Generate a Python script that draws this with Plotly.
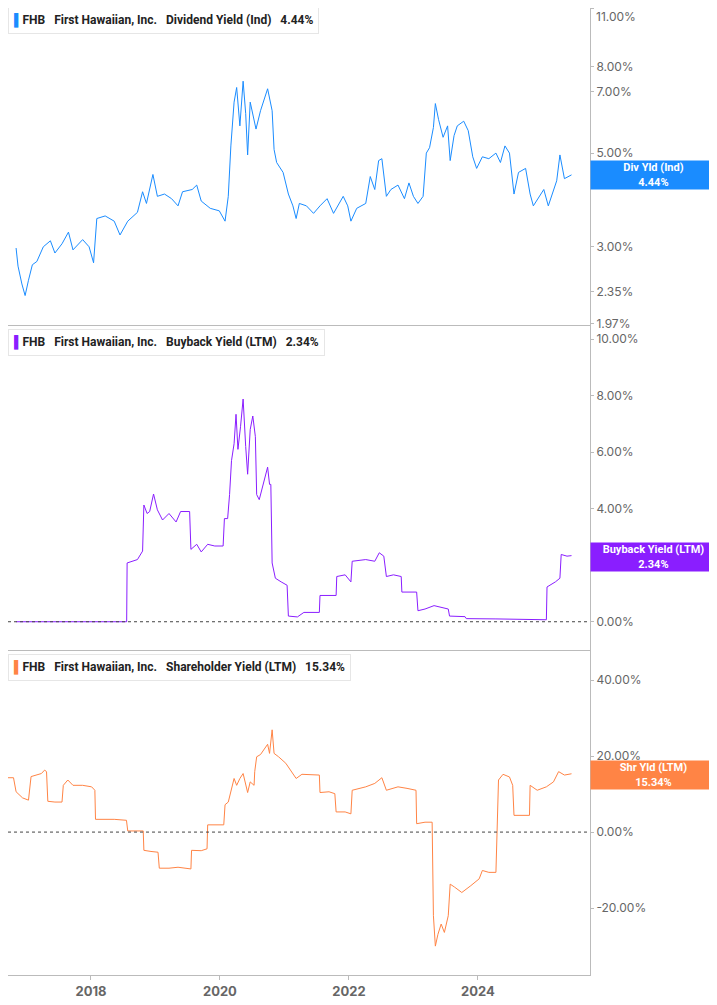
import plotly.graph_objects as go
import pandas as pd

# ---- data (decimal year, percent) ----
div_t = [2016.84,2016.87,2016.93,2016.98,2017.03,2017.09,2017.16,2017.26,2017.37,2017.44,2017.55,2017.65,2017.72,2017.87,2017.97,2018.04,2018.09,2018.22,2018.36,2018.45,2018.57,2018.72,2018.80,2018.86,2018.96,2019.03,2019.14,2019.25,2019.35,2019.42,2019.57,2019.64,2019.71,2019.85,2019.99,2020.08,2020.13,2020.17,2020.22,2020.26,2020.31,2020.36,2020.40,2020.43,2020.47,2020.56,2020.63,2020.74,2020.81,2020.84,2020.88,2020.98,2021.06,2021.13,2021.18,2021.23,2021.34,2021.45,2021.55,2021.66,2021.76,2021.91,2021.98,2022.03,2022.12,2022.26,2022.33,2022.40,2022.46,2022.51,2022.58,2022.65,2022.76,2022.86,2022.93,2023.00,2023.07,2023.15,2023.20,2023.25,2023.31,2023.34,2023.39,2023.46,2023.53,2023.57,2023.63,2023.68,2023.78,2023.85,2023.92,2023.98,2024.07,2024.17,2024.28,2024.35,2024.42,2024.49,2024.56,2024.63,2024.74,2024.81,2024.86,2024.95,2025.02,2025.09,2025.16,2025.22,2025.27,2025.34,2025.45]
div_v = [2.98,2.70,2.45,2.30,2.50,2.72,2.77,3.00,3.10,2.90,3.05,3.25,2.95,3.12,3.00,2.75,3.50,3.55,3.45,3.20,3.45,3.62,4.05,3.80,4.45,3.95,4.00,3.90,3.75,4.05,4.10,4.20,3.85,3.70,3.65,3.45,3.95,5.20,6.60,7.15,5.80,7.40,6.20,4.95,6.60,5.70,6.30,7.10,6.30,5.10,4.75,4.50,4.00,3.75,3.50,3.80,3.75,3.60,3.75,3.90,3.60,3.95,3.75,3.45,3.70,3.80,4.40,4.10,4.80,4.85,3.95,4.10,4.20,3.90,4.25,3.95,3.80,3.95,5.00,5.15,5.75,6.55,6.00,5.45,5.80,4.80,5.50,5.80,5.95,5.65,4.90,4.60,4.90,4.85,5.00,4.75,5.20,5.00,4.00,4.50,4.60,4.00,3.75,3.95,4.10,3.75,4.05,4.30,4.95,4.35,4.44]

bb_t = [2016.84,2018.553,2018.56,2018.72,2018.80,2018.82,2018.87,2018.91,2018.97,2019.03,2019.11,2019.21,2019.32,2019.39,2019.53,2019.55,2019.64,2019.71,2019.81,2019.92,2020.05,2020.07,2020.12,2020.15,2020.18,2020.22,2020.25,2020.28,2020.32,2020.36,2020.40,2020.43,2020.47,2020.51,2020.55,2020.57,2020.61,2020.67,2020.74,2020.77,2020.79,2020.81,2020.86,2020.95,2021.04,2021.06,2021.20,2021.30,2021.54,2021.55,2021.80,2021.81,2021.94,2022.03,2022.05,2022.26,2022.40,2022.47,2022.54,2022.58,2022.69,2022.81,2022.82,2023.05,2023.07,2023.18,2023.32,2023.54,2023.56,2023.80,2023.82,2024.28,2025.06,2025.07,2025.20,2025.27,2025.29,2025.38,2025.45]
bb_v = [0.0,0.0,2.08,2.20,2.50,4.13,3.83,3.90,4.52,3.96,3.60,3.83,3.53,3.90,3.90,2.56,2.74,2.47,2.74,2.68,2.68,3.65,3.65,4.50,5.70,6.30,7.34,6.10,6.90,7.88,6.20,5.22,6.80,7.28,6.55,4.50,4.32,4.86,5.47,4.86,4.86,2.08,1.54,1.41,1.29,0.20,0.17,0.33,0.33,0.93,0.93,1.60,1.66,1.41,2.14,2.20,2.14,2.44,2.32,1.60,1.66,1.60,1.05,1.05,0.39,0.45,0.57,0.45,0.20,0.18,0.11,0.10,0.07,1.23,1.41,1.54,2.38,2.32,2.34]

sh_t = [2016.59,2016.65,2016.67,2016.68,2016.80,2016.84,2016.94,2017.03,2017.07,2017.23,2017.28,2017.31,2017.33,2017.44,2017.55,2017.57,2017.64,2017.72,2017.87,2018.01,2018.06,2018.07,2018.36,2018.55,2018.57,2018.81,2018.82,2018.93,2019.04,2019.06,2019.21,2019.35,2019.55,2019.56,2019.71,2019.80,2019.81,2020.06,2020.08,2020.13,2020.17,2020.22,2020.26,2020.31,2020.36,2020.40,2020.43,2020.47,2020.53,2020.54,2020.57,2020.63,2020.69,2020.74,2020.77,2020.81,2020.84,2020.91,2021.02,2021.09,2021.18,2021.27,2021.41,2021.54,2021.55,2021.69,2021.78,2021.80,2021.94,2022.03,2022.05,2022.26,2022.40,2022.51,2022.58,2022.76,2022.90,2023.04,2023.05,2023.18,2023.29,2023.31,2023.34,2023.38,2023.43,2023.48,2023.54,2023.57,2023.64,2023.75,2023.89,2024.02,2024.07,2024.17,2024.28,2024.32,2024.39,2024.49,2024.54,2024.56,2024.80,2024.81,2024.92,2025.06,2025.17,2025.25,2025.34,2025.45]
sh_v = [23.3,21.6,21.1,14.3,14.3,10.6,9.0,8.4,14.6,15.4,16.3,15.9,8.1,7.9,7.9,12.3,13.7,12.3,12.3,11.9,11.0,3.35,3.35,3.1,0.3,0.3,-4.8,-5.1,-5.3,-9.5,-9.5,-9.25,-9.7,-4.8,-4.9,-4.4,1.9,1.9,7.2,7.9,11.0,14.1,12.3,14.1,15.4,12.3,10.4,13.2,12.3,15.9,19.8,20.4,22.0,23.1,20.7,26.9,20.7,19.8,18.1,16.3,14.1,15.2,15.0,15.0,10.4,10.6,10.1,5.3,5.3,4.8,11.0,11.9,12.8,14.3,11.0,11.9,11.5,11.0,2.2,2.6,2.6,-22.0,-30.0,-26.9,-24.2,-26.4,-22.0,-13.7,-14.5,-15.9,-14.1,-12.3,-10.1,-10.6,-10.6,13.7,15.2,14.5,12.3,4.4,4.4,12.3,11.0,11.9,13.2,15.9,15.0,15.34]

div_ticks = [1.97, 2.35, 3, 5, 7, 8, 11]
bb_ticks = [0, 2, 4, 6, 8, 10]
sh_ticks = [-20, 0, 20, 40]
year_ticks = ["2018", "2020", "2022", "2024"]

def to_dates(ts):
    out = []
    for t in ts:
        y = int(t)
        out.append(pd.Timestamp(year=y, month=1, day=1) + pd.Timedelta(days=(t - y) * 365.25))
    return out

W, H = 709, 997
PT = 8
PH = 967
def py(page_y):
    return 1 - (page_y - PT) / PH

BLUE, PURPLE, ORANGE = "#1a8cff", "#8a1eff", "#ff8445"
fig = go.Figure()
fig.add_trace(go.Scatter(x=to_dates(div_t), y=div_v, mode="lines", line=dict(color=BLUE, width=1), xaxis="x", yaxis="y"))
fig.add_trace(go.Scatter(x=to_dates(bb_t), y=bb_v, mode="lines", line=dict(color=PURPLE, width=1), xaxis="x2", yaxis="y2"))
fig.add_trace(go.Scatter(x=to_dates(sh_t), y=sh_v, mode="lines", line=dict(color=ORANGE, width=1), xaxis="x3", yaxis="y3"))

xr = ["2016-09-18", "2025-09-27"]
tickfont = dict(family="Inter, Roboto, sans-serif", size=12, color="#666")
xcommon = dict(range=xr, showgrid=False, showline=True, linecolor="#bbb", linewidth=1, zeroline=False,
               tickvals=[pd.Timestamp(y + "-01-01") for y in year_ticks], ticktext=year_ticks)
ycommon = dict(side="right", showgrid=False, zeroline=False, showline=True, linecolor="#bbb", linewidth=1,
               ticks="outside", ticklen=3, tickcolor="#bbb", tickfont=tickfont)
d_top = [py(325), 1]
d_mid = [py(650), py(325)]
d_bot = [0, py(650)]
fig.update_layout(
    xaxis=dict(xcommon, anchor="y", showticklabels=False, matches="x3"),
    xaxis2=dict(xcommon, anchor="y2", showticklabels=False, matches="x3"),
    xaxis3=dict(xcommon, anchor="y3", ticks="outside", ticklen=4, tickcolor="#bbb",
                tickfont=dict(family="Inter, Roboto, sans-serif", size=13, color="#666", weight="bold")),
    yaxis=dict(ycommon, domain=d_top, anchor="x", type="log", range=[0.292, 1.0425], tickvals=div_ticks,
               ticktext=[f"{v:.2f}%" for v in div_ticks]),
    yaxis2=dict(ycommon, domain=d_mid, anchor="x2", range=[-1.0, 10.5], tickvals=bb_ticks,
                ticktext=[f"{v:.2f}%" for v in bb_ticks]),
    yaxis3=dict(ycommon, domain=d_bot, anchor="x3", range=[-37.6, 47.9], tickvals=sh_ticks,
                ticktext=[f"{v:.2f}%" for v in sh_ticks]),
)

# top-edge tick label that plotly drops (would overflow the figure)
fig.add_annotation(xref="paper", yref="paper", x=1.0, y=1.0, xanchor="left", yanchor="top", xshift=4, yshift=1,
                   text=f"{div_ticks[-1]:.2f}%", showarrow=False, font=tickfont)

for xref, yref in (("x2", "y2"), ("x3", "y3")):
    fig.add_shape(type="line", xref=f"{xref} domain", yref=yref, x0=0, x1=1, y0=0, y1=0,
                  line=dict(color="#444", width=1, dash="dot"))

def label(page_y, color, name, val):
    fig.add_annotation(xref="paper", yref="paper", x=0.0, y=py(page_y), xanchor="left", yanchor="top",
                       text=f"<span style='color:{color}'>▌</span><b>FHB</b>   <b>First Hawaiian, Inc.</b>   <b>{name}</b>   <b>{val}</b>",
                       showarrow=False, font=dict(family="Roboto, sans-serif", size=12, color="#222"),
                       bgcolor="white", bordercolor="#e6e6e6", borderwidth=1, borderpad=5, align="left")

label(7, BLUE, "Dividend Yield (Ind)", "4.44%")
label(329, PURPLE, "Buyback Yield (LTM)", "2.34%")
label(654, ORANGE, "Shareholder Yield (LTM)", "15.34%")

def tag(ytop, color, text):
    fig.add_annotation(xref="paper", yref="paper", x=1.0, y=py(ytop), xanchor="left", yanchor="top",
                       text=text, showarrow=False, width=125, height=28, bgcolor=color, borderpad=0,
                       font=dict(family="Roboto, sans-serif", size=11, color="white", weight="bold"))

tag(160, BLUE, "Div Yld (Ind)<br>4.44%")
tag(542, PURPLE, "Buyback Yield (LTM)<br>2.34%")
tag(760, ORANGE, "Shr Yld (LTM)<br>15.34%")

fig.update_layout(width=W, height=H, margin=dict(l=0, r=127, t=0, b=30),
                  plot_bgcolor="white", paper_bgcolor="white", showlegend=False)
fig.write_html("out.html")
